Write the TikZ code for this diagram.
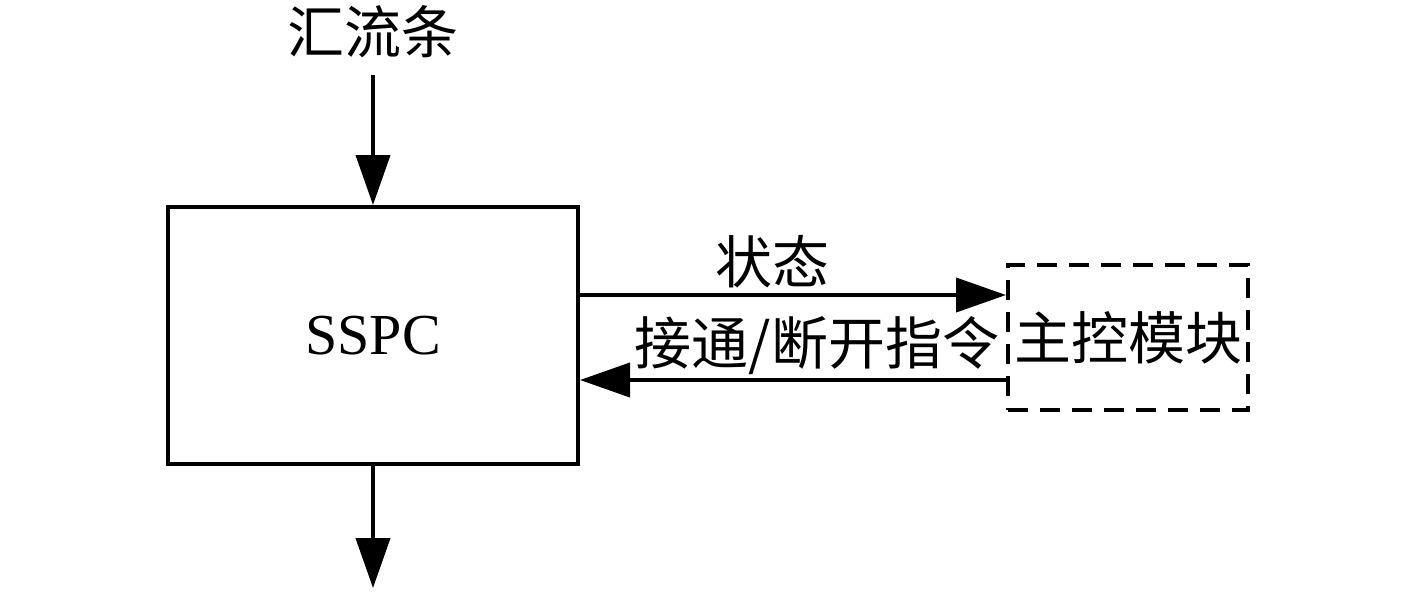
\documentclass[tikz,border=0pt]{standalone}
\usepackage{fontspec}
\setmainfont{Liberation Serif}
\newfontfamily\cjk{Noto Sans CJK SC}
\usetikzlibrary{arrows.meta}
\begin{document}
\begin{tikzpicture}[x=0.5pt,y=-0.5pt,
  line width=2pt,
  arr/.style={-{Triangle[length=25pt,width=17pt]}},
  lbl/.style={inner sep=0pt,font=\cjk\fontsize{28.5pt}{31pt}\selectfont},
  box/.style={draw,minimum width=205pt,minimum height=128.5pt,inner sep=0pt}]
\useasboundingbox (0,0) rectangle (1417,591);
\node[box,font=\fontsize{29pt}{32pt}\selectfont] (sspc) at (373,335.5) {SSPC};
\node[draw,dashed,dash pattern=on 10pt off 6pt,minimum width=120pt,minimum height=72.5pt,inner sep=0pt] (ctrl) at (1128,337.5) {};
\node[lbl] at (ctrl.center) {主控模块};
\node[lbl] (bus) at (373,32) {汇流条};
\coordinate (busend) at (373,75);
\coordinate (out) at (373,588);
\draw[arr] (busend) -- (sspc.north);
\draw[arr] (sspc.south) -- (out);
\coordinate (s1) at (sspc.east |- 0,295);
\coordinate (s2) at (ctrl.west |- 0,295);
\coordinate (c1) at (ctrl.west |- 0,380);
\coordinate (c2) at (sspc.east |- 0,380);
\draw[arr] (s1) -- (s2);
\draw[arr] (c1) -- (c2);
\node[lbl] (state) at (772,262) {状态};
\node[lbl] (cmd) at (817,346) {接通/断开指令};
\end{tikzpicture}
\end{document}
